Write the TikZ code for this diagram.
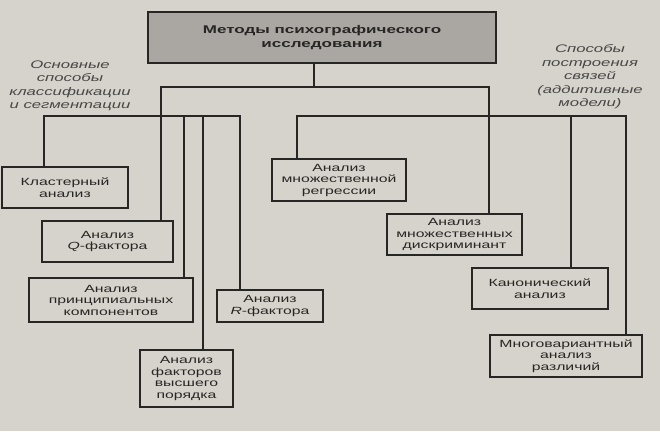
\documentclass[tikz,border=0pt]{standalone}
\usepackage{fontspec}
\setmainfont{Liberation Sans}[FakeStretch=1.52]
\definecolor{paper}{RGB}{214,210,204}
\definecolor{headfill}{RGB}{170,167,163}
\definecolor{ink}{RGB}{40,38,36}
\begin{document}
\begin{tikzpicture}[x=1pt,y=-1pt,
		box/.style={draw=ink,line width=1.3pt,align=center,inner sep=0pt,
			font=\fontsize{10.4}{11.5}\selectfont,text=ink},
		wire/.style={draw=ink,line width=1.3pt},
		note/.style={align=center,font=\itshape\fontsize{11}{13.5}\selectfont,text=ink!85}]
		\fill[paper] (0,0) rectangle (660,431);
		\useasboundingbox (0,0) rectangle (660,431);
		\node[box,fill=headfill,minimum width=348pt,minimum height=51pt,
			font=\bfseries\fontsize{11.2}{14}\selectfont] (head) at (322,37.5)
			{Методы психографического\\исследования};
		\node[note] (noteL) at (70,86) {Основные\\способы\\классификации\\и сегментации};
		\node[note] (noteR) at (590,77) {Способы\\построения\\связей\\(аддитивные\\модели)};
		% left group
		\node[box,minimum width=126pt,minimum height=41pt] (klast) at (65,187.5) {Кластерный\\анализ};
		\node[box,minimum width=131pt,minimum height=41pt] (qf) at (107.5,241.5) {Анализ\\\textit{Q}-фактора};
		\node[box,minimum width=164pt,minimum height=44pt] (princ) at (111,300) {Анализ\\принципиальных\\компонентов};
		\node[box,minimum width=106pt,minimum height=32pt] (rf) at (270,306) {Анализ\\\textit{R}-фактора};
		\node[box,minimum width=93pt,minimum height=57pt] (high) at (186.5,378.5) {Анализ\\факторов\\высшего\\порядка};
		% right group
		\node[box,minimum width=134pt,minimum height=42pt] (regr) at (339,180) {Анализ\\множественной\\регрессии};
		\node[box,minimum width=135pt,minimum height=41pt] (disc) at (454.5,234.5) {Анализ\\множественных\\дискриминант};
		\node[box,minimum width=136pt,minimum height=41pt] (canon) at (540,288.5) {Канонический\\анализ};
		\node[box,minimum width=152pt,minimum height=42pt] (multi) at (566,356) {Многовариантный\\анализ\\различий};
		% junctions
		\coordinate (hub) at (314,87);
		\coordinate (hubL) at (161,87);
		\coordinate (hubR) at (489,87);
		\coordinate (busL1) at (44,116);
		\coordinate (busL2) at (240,116);
		\coordinate (tapP) at (184,116);
		\coordinate (tapH) at (203,116);
		\coordinate (busR1) at (297,116);
		\coordinate (busR2) at (626,116);
		\coordinate (tapC) at (571,116);
		\draw[wire] (hub |- head.south) -- (hub);
		\draw[wire] (hubL |- qf.north) -- (hubL) -- (hubR) -- (hubR |- disc.north);
		\draw[wire] (busL1 |- klast.north) -- (busL1) -- (busL2) -- (busL2 |- rf.north);
		\draw[wire] (busR1 |- regr.north) -- (busR1) -- (busR2) -- (busR2 |- multi.north);
		\foreach \t/\b in {tapP/princ, tapH/high, tapC/canon}
			\draw[wire] (\t) -- (\t |- \b.north);
	\end{tikzpicture}
\end{document}
